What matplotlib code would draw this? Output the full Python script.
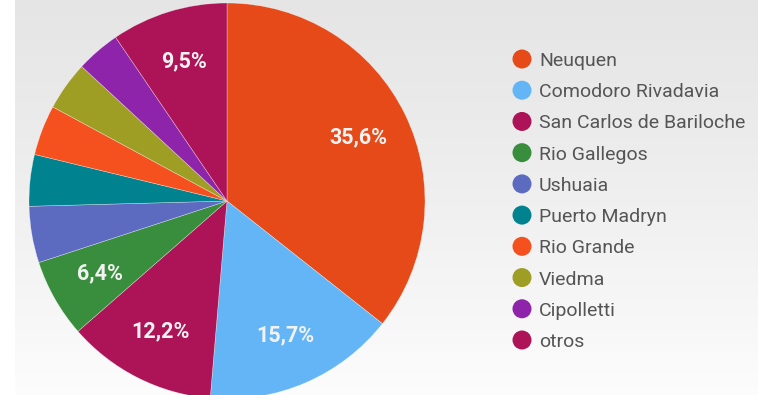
import numpy as np
import matplotlib
matplotlib.use("Agg")
import matplotlib.pyplot as plt

categories = ["Neuquen", "Comodoro Rivadavia", "San Carlos de Bariloche", "Rio Gallegos",
              "Ushuaia", "Puerto Madryn", "Rio Grande", "Viedma", "Cipolletti", "otros"]
values = [35.6, 15.7, 12.2, 6.4, 4.6, 4.2, 4.1, 4.0, 3.6, 9.5]
colors = ["#e64a19", "#64b5f6", "#ad1457", "#388e3c", "#5c6bc0",
          "#00838f", "#f4511e", "#9e9d24", "#8e24aa", "#ad1457"]

W, H = 770, 395
fig = plt.figure(figsize=(W / 100, H / 100), dpi=100)
fig.patch.set_facecolor("white")

# background gradient
bg = fig.add_axes([15 / W, 0, (758 - 15) / W, 1])
grad = np.linspace(0, 1, 256).reshape(-1, 1)
top = np.array([0.90, 0.90, 0.90])
bot = np.array([0.99, 0.99, 0.99])
img = top + (bot - top) * grad[..., None] ** 1.2
bg.imshow(img, aspect="auto", extent=[0, 1, 0, 1], origin="upper")
bg.axis("off")

# pie
cx, cy, r = 227, 201, 198
ax = fig.add_axes([(cx - r) / W, (H - cy - r) / H, 2 * r / W, 2 * r / H])
ax.set_facecolor("none")

def fmt(p):
    return (f"{p:.1f}%".replace(".", ",")) if p >= 5 else ""

wedges, texts, autotexts = ax.pie(
    values, colors=colors, startangle=90, counterclock=False, radius=1,
    autopct=fmt, pctdistance=0.74,
    wedgeprops=dict(linewidth=0.4, edgecolor=(1, 1, 1, 0.5)),
    textprops=dict(color="white", fontsize=15.5, family="Roboto", weight="bold"))
for t in autotexts:
    t.set_color("#f2f2f2")
ax.set_xlim(-1, 1)
ax.set_ylim(-1, 1)
ax.set_aspect("equal")
ax.axis("off")

# legend
y0, y1 = 59, 340
lx = 510
lax = fig.add_axes([lx / W, 0, (W - lx) / W, 1])
lax.set_xlim(lx, W)
lax.set_ylim(H, 0)
lax.axis("off")
n = len(categories)
ys = [y0 + i * (y1 - y0) / (n - 1) for i in range(n)]
lax.scatter([522] * n, ys, s=(19 * 0.72) ** 2, c=colors, marker="o", linewidths=0)
for y, lab in zip(ys, categories):
    lax.text(539, y, lab, ha="left", va="center_baseline", fontsize=14,
             family="Roboto", color="#555555")

fig.savefig("out.png", dpi=100)
